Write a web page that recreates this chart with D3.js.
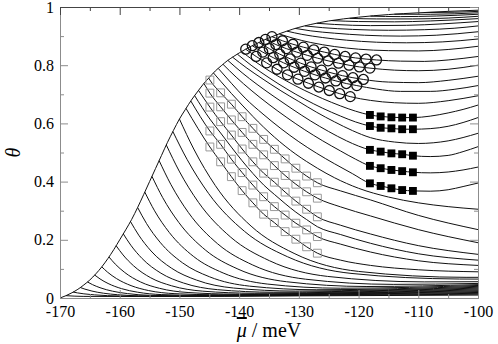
<!DOCTYPE html>
<html>
<head>
<meta charset="utf-8">
<script src="https://cdn.jsdelivr.net/npm/d3@7"></script>
<style>
body { margin: 0; background: #fff; }
svg { display: block; }
</style>
</head>
<body>
<div id="chart"></div>
<script>
// rising edge shared by every curve, [mu, theta]
var envelope = [[-170,0],[-169,0.008],[-168,0.018],[-167,0.03],[-166,0.045],[-165,0.062],[-164,0.083],
  [-163,0.107],[-162,0.135],[-161,0.166],[-160,0.2],[-159,0.234],[-158,0.27],[-157,0.311],[-156,0.355],
  [-155,0.4],[-154,0.445],[-153,0.49],[-152,0.535],[-151,0.576],[-150,0.615],[-149,0.648],[-148,0.68],
  [-147,0.708],[-146,0.735],[-145,0.758],[-144,0.78],[-143,0.798],[-142,0.815],[-141,0.829],[-140,0.842],
  [-139,0.854],[-138,0.865],[-137,0.875],[-136,0.885],[-135,0.894],[-134,0.902],[-133,0.91],[-132,0.917],
  [-131,0.924],[-130,0.93],[-128,0.94],[-125,0.952],[-120,0.965],[-115,0.974],[-110,0.98],[-105,0.985],[-100,0.989]];

// curves that leave the edge early and fall to the floor
var lowerCurves = [
  [[-169,0.008],[-166,0.0055],[-155,0.005],[-130,0.0073],[-100,0.01]],
  [[-167.8,0.0204],[-167.08,0.0176],[-166,0.0143],[-164.2,0.0107],[-162.04,0.0081],[-158.8,0.0063],[-153.4,0.0055],[-130,0.0086],[-100,0.013]],
  [[-166.6,0.036],[-165.82,0.0304],[-164.65,0.0238],[-162.7,0.0164],[-160.36,0.0113],[-156.85,0.0075],[-151,0.0064],[-130,0.01],[-100,0.016]],
  [[-165.4,0.055],[-164.56,0.046],[-163.3,0.0354],[-161.2,0.0234],[-158.68,0.0151],[-154.9,0.0091],[-148.6,0.0075],[-130,0.0114],[-100,0.019]],
  [[-164.2,0.079],[-163.3,0.0656],[-161.95,0.0499],[-159.7,0.0322],[-157,0.0199],[-152.95,0.0117],[-146.2,0.009],[-130,0.0127],[-100,0.022]],
  [[-163,0.107],[-162.02,0.0885],[-160.55,0.0669],[-158.1,0.0425],[-155.16,0.0256],[-150.75,0.0149],[-143.4,0.011],[-130,0.0141],[-100,0.025]],
  [[-161.8,0.141],[-160.74,0.1164],[-159.15,0.0876],[-156.5,0.055],[-153.32,0.0332],[-148.55,0.0189],[-140.6,0.0134],[-130,0.0155],[-100,0.028]],
  [[-160.6,0.1796],[-159.44,0.148],[-157.7,0.111],[-154.8,0.0694],[-151.32,0.042],[-146.1,0.0235],[-137.4,0.0164],[-120,0.0214],[-100,0.031]],
  [[-159.4,0.2204],[-158.14,0.1814],[-156.25,0.1357],[-153.1,0.0853],[-149.32,0.0515],[-143.65,0.0287],[-134.2,0.0199],[-115,0.0261],[-100,0.034]],
  [[-158.2,0.2628],[-156.82,0.2161],[-154.75,0.1615],[-151.3,0.1021],[-147.16,0.0617],[-140.95,0.0343],[-130.6,0.0238],[-115,0.0283],[-100,0.037]],
  [[-157,0.311],[-155.5,0.2556],[-153.25,0.1918],[-149.5,0.1211],[-145,0.0732],[-138.25,0.0408],[-127,0.0283],[-100,0.04]],
  [[-155.8,0.364],[-154.16,0.2996],[-151.7,0.2252],[-147.6,0.1422],[-142.68,0.086],[-135.3,0.048],[-123,0.0336],[-100,0.043]],
  [[-154.6,0.418],[-152.8,0.3448],[-150.1,0.2594],[-145.6,0.164],[-140.2,0.0994],[-132.1,0.056],[-118.6,0.0395],[-100,0.046]],
  [[-153.4,0.472],[-151.44,0.3904],[-148.5,0.2938],[-143.6,0.1862],[-137.72,0.1134],[-128.9,0.0647],[-114.2,0.0468],[-100,0.05]],
  [[-152.2,0.526],[-150.04,0.4361],[-146.8,0.3285],[-141.4,0.2088],[-134.92,0.1281],[-125.2,0.0742],[-109,0.0554],[-100,0.056]],
  [[-151.1,0.572],[-148.7,0.4755],[-145.1,0.3587],[-139.1,0.229],[-131.9,0.1418],[-121.1,0.0842],[-103.1,0.0652],[-100,0.065]],
  [[-150,0.615],[-147.6,0.512],[-144,0.3867],[-138,0.2471],[-130.8,0.1533],[-120,0.0913],[-102,0.071],[-100,0.071]]
];

// open squares band: columns and theta on five curves (top to bottom)
var sqCols = [-144.9,-143.1,-141.3,-139.5,-137.7,-135.9,-134.1,-132.3,-130.5,-128.7,-126.9];
var sqRows = [
  [0.749,0.705,0.666,0.623,0.583,0.545,0.511,0.478,0.446,0.419,0.396],
  [0.704,0.657,0.612,0.569,0.528,0.492,0.455,0.421,0.391,0.365,0.343],
  [0.656,0.606,0.560,0.512,0.468,0.429,0.398,0.364,0.333,0.305,0.279],
  [0.574,0.528,0.477,0.431,0.388,0.348,0.314,0.285,0.257,0.234,0.211],
  [0.519,0.468,0.417,0.369,0.327,0.288,0.259,0.228,0.202,0.176,0.154]
];
var sqStart = [[-145.1,0.7558],[-145.9,0.7373],[-146.8,0.7134],[-148.1,0.6772],[-148.9,0.6516]];
var sqTail = [
  [[-123,0.368],[-118,0.337],[-110,0.284],[-100,0.235]],
  [[-123,0.313],[-118,0.282],[-110,0.235],[-100,0.19]],
  [[-123,0.25],[-118,0.22],[-110,0.18],[-100,0.15]],
  [[-123,0.185],[-118,0.158],[-110,0.128],[-100,0.112]],
  [[-123,0.13],[-118,0.112],[-110,0.097],[-100,0.09]]
];
// curve between the 3rd and 4th square rows, no markers
var midCurve = [[-147.45,0.6954],[-144.9,0.615],[-143.1,0.567],[-141.3,0.5185],[-139.5,0.4715],[-137.7,0.428],
  [-135.9,0.3885],[-134.1,0.356],[-132.3,0.3245],[-130.5,0.295],[-128.7,0.2695],[-126.9,0.245],
  [-123,0.218],[-118,0.188],[-110,0.152],[-100,0.13]];

// filled squares
var fillCols = [-118.1,-116.3,-114.5,-112.7,-110.9];
var fillRows = [
  [0.629,0.624,0.621,0.62,0.62],
  [0.591,0.585,0.583,0.58,0.58],
  [0.509,0.503,0.497,0.494,0.489],
  [0.454,0.446,0.44,0.436,0.432],
  [0.394,0.385,0.377,0.371,0.368]
];
var fillHead = [
  [[-139.6,0.847],[-137.5,0.815],[-135,0.781],[-132,0.745],[-129,0.713],[-126,0.685],[-123,0.66],[-120.5,0.642]],
  [[-140.3,0.838],[-138,0.8],[-135,0.757],[-132,0.718],[-129,0.683],[-126,0.652],[-123,0.625],[-120.5,0.605]],
  [[-141.9,0.8166],[-139.5,0.774],[-137,0.734],[-134,0.69],[-131,0.648],[-128,0.608],[-125,0.572],[-122,0.54],[-120,0.522]],
  [[-142.7,0.803],[-140.5,0.759],[-138,0.714],[-135,0.665],[-132,0.62],[-129,0.578],[-126,0.54],[-123,0.505],[-120.5,0.477]],
  [[-143.5,0.789],[-141.3,0.738],[-139,0.687],[-136,0.632],[-133,0.582],[-130,0.537],[-127,0.497],[-124,0.461],[-121,0.427]]
];
var fillTail = [
  [[-108,0.625],[-105,0.636],[-102.5,0.648],[-100,0.663]],
  [[-108,0.582],[-105,0.59],[-102.5,0.603],[-100,0.62]],
  [[-108,0.486],[-105,0.49],[-102.5,0.503],[-100,0.52]],
  [[-108,0.43],[-105,0.433],[-102.5,0.44],[-100,0.45]],
  [[-108,0.367],[-105,0.372],[-102.5,0.383],[-100,0.395]]
];

// open circles, bottom row first
var circCols = [
  [-138.9,-137.15,-135.4,-133.65,-131.9,-130.15,-128.4,-126.65,-124.9,-123.15,-121.4],
  [-137.8,-136.05,-134.3,-132.55,-130.8,-129.05,-127.3,-125.55,-123.8,-122.05,-120.3],
  [-136.7,-134.95,-133.2,-131.45,-129.7,-127.95,-126.2,-124.45,-122.7,-120.95,-119.2],
  [-135.6,-133.85,-132.1,-130.35,-128.6,-126.85,-125.1,-123.35,-121.6,-119.85,-118.1],
  [-134.5,-132.75,-131,-129.25,-127.5,-125.75,-124,-122.25,-120.5,-118.75,-117]
];
var circRows = [
  [0.855,0.83,0.808,0.786,0.767,0.752,0.738,0.725,0.713,0.702,0.692],
  [0.867,0.845,0.826,0.808,0.793,0.779,0.767,0.756,0.746,0.737,0.73],
  [0.878,0.857,0.838,0.822,0.807,0.794,0.783,0.773,0.764,0.757,0.751],
  [0.8886,0.871,0.857,0.845,0.834,0.824,0.815,0.807,0.8,0.794,0.79],
  [0.898,0.884,0.872,0.862,0.853,0.845,0.837,0.83,0.825,0.821,0.818]
];
var circTail = [
  [[-118,0.679],[-114,0.671],[-110,0.669],[-105,0.678],[-100,0.695]],
  [[-117,0.718],[-113,0.71],[-108,0.71],[-104,0.717],[-100,0.73]],
  [[-115,0.742],[-110,0.74],[-105,0.748],[-100,0.762]],
  [[-114,0.783],[-110,0.781],[-105,0.786],[-100,0.8]],
  [[-113,0.814],[-109,0.813],[-105,0.818],[-100,0.83]]
];

// remaining upper curves without markers
var upperCurves = [
  [[-144.3,0.7734],[-143.1,0.745],[-141.3,0.703],[-139.5,0.663],[-137.7,0.624],[-135.9,0.587],[-134.1,0.553],[-132.3,0.522],[-130.5,0.494],[-128.7,0.469],[-126.9,0.446],[-124,0.413],[-120,0.377],[-115,0.347],[-110,0.327],[-105,0.314],[-100,0.305]],
  [[-141.1,0.8276],[-138.7,0.79],[-136,0.752],[-133,0.712],[-130,0.675],[-127,0.638],[-124,0.605],[-121,0.575],[-118,0.551],[-114,0.536],[-110,0.531],[-105,0.54],[-100,0.566]],
  [[-133.3,0.9076],[-131,0.893],[-128,0.878],[-124,0.864],[-120,0.855],[-115,0.85],[-110,0.849],[-105,0.854],[-100,0.865]],
  [[-132,0.917],[-129.5,0.906],[-126,0.895],[-122,0.886],[-117,0.879],[-112,0.877],[-106,0.88],[-100,0.89]],
  [[-130.6,0.9264],[-128,0.918],[-124,0.91],[-119,0.903],[-113,0.9],[-107,0.903],[-100,0.915]],
  [[-129,0.935],[-126,0.929],[-121,0.923],[-115,0.92],[-109,0.922],[-104,0.927],[-100,0.935]],
  [[-127,0.944],[-124,0.94],[-118,0.936],[-112,0.937],[-106,0.942],[-100,0.95]],
  [[-124.5,0.9533],[-120,0.95],[-114,0.949],[-108,0.952],[-100,0.96]],
  [[-121.5,0.961],[-117,0.959],[-111,0.959],[-105,0.962],[-100,0.968]],
  [[-118,0.9686],[-113,0.967],[-107,0.969],[-100,0.975]],
  [[-114,0.9752],[-108,0.975],[-100,0.98]],
  [[-109,0.981],[-104,0.982],[-100,0.985]]
];

var xMajor = [-170,-160,-150,-140,-130,-120,-110,-100];
var xMinor = [-165,-155,-145,-135,-125,-115,-105];
var yMajor = [0,0.2,0.4,0.6,0.8,1];
var yMinor = [0.1,0.3,0.5,0.7,0.9];

var svgWidth = 498;
var svgHeight = 344;
var margin = {top: 7, right: 20, bottom: 46, left: 60};
var width = svgWidth - margin.left - margin.right;
var height = svgHeight - margin.top - margin.bottom;
var serif = "'Liberation Serif', 'DejaVu Serif', 'Times New Roman', serif";

var svg = d3.select("#chart").append("svg")
  .attr("width", svgWidth)
  .attr("height", svgHeight);
svg.append("rect").attr("width", svgWidth).attr("height", svgHeight).attr("fill", "#fff");

var chart = svg.append("g").attr("transform", `translate(${margin.left},${margin.top})`);

var xScale = d3.scaleLinear().domain([-170, -100]).range([0, width]);
var yScale = d3.scaleLinear().domain([0, 1]).range([height, 0]);

chart.append("clipPath").attr("id", "plotClip")
  .append("rect").attr("width", width).attr("height", height);

// assemble curves
var sqCurves = sqRows.map((row, i) => [sqStart[i]].concat(sqCols.map((x, j) => [x, row[j]]), sqTail[i]));
var fillCurves = fillRows.map((row, i) => fillHead[i].concat(fillCols.map((x, j) => [x, row[j]]), fillTail[i]));
var circCurves = circRows.map((row, i) => circCols[i].map((x, j) => [x, row[j]]).concat(circTail[i]));
var allCurves = [envelope].concat(lowerCurves, sqCurves, [midCurve], fillCurves, circCurves, upperCurves);

var line = d3.line()
  .x(d => xScale(d[0]))
  .y(d => yScale(d[1]))
  .curve(d3.curveMonotoneX);

chart.append("g").attr("clip-path", "url(#plotClip)")
  .selectAll("path")
  .data(allCurves)
  .enter()
  .append("path")
  .attr("d", line)
  .attr("fill", "none")
  .attr("stroke", "#111")
  .attr("stroke-width", 1);

// axes, ticks pointing inward
function styleAxis(g, color) {
  g.select(".domain").attr("stroke", color);
  g.selectAll(".tick line").attr("stroke", color);
  g.selectAll(".tick text").attr("fill", "#000").attr("font-family", serif).attr("font-size", 16);
}
var axisColor = "#8c8c8c";

var xFmt = d => d3.format("d")(d).replace("\u2212", "-");
var yFmt = d => (d === 0 || d === 1) ? String(d) : d.toFixed(1);

chart.append("g").attr("transform", `translate(0,${height})`)
  .call(d3.axisBottom(xScale).tickValues(xMinor).tickSize(-4).tickSizeOuter(0).tickFormat(""))
  .call(g => styleAxis(g, axisColor));
chart.append("g").attr("transform", `translate(0,${height})`)
  .call(d3.axisBottom(xScale).tickValues(xMajor).tickSize(-8).tickSizeOuter(0).tickPadding(8).tickFormat(xFmt))
  .call(g => styleAxis(g, axisColor));

chart.append("g")
  .call(d3.axisLeft(yScale).tickValues(yMinor).tickSize(-4).tickSizeOuter(0).tickFormat(""))
  .call(g => styleAxis(g, axisColor));
chart.append("g")
  .call(d3.axisLeft(yScale).tickValues(yMajor).tickSize(-8).tickSizeOuter(0).tickPadding(6).tickFormat(yFmt))
  .call(g => styleAxis(g, axisColor));

chart.append("g")
  .call(d3.axisTop(xScale).tickValues(xMinor).tickSize(-4).tickSizeOuter(0).tickFormat(""))
  .call(g => styleAxis(g, "#444"));
chart.append("g")
  .call(d3.axisTop(xScale).tickValues(xMajor).tickSize(-8).tickSizeOuter(0).tickFormat(""))
  .call(g => styleAxis(g, "#444"));

chart.append("g").attr("transform", `translate(${width},0)`)
  .call(d3.axisRight(yScale).tickValues(yMinor).tickSize(-4).tickSizeOuter(0).tickFormat(""))
  .call(g => styleAxis(g, axisColor));
chart.append("g").attr("transform", `translate(${width},0)`)
  .call(d3.axisRight(yScale).tickValues(yMajor).tickSize(-8).tickSizeOuter(0).tickFormat(""))
  .call(g => styleAxis(g, axisColor));

// markers
var openSquares = [];
sqRows.forEach((row, i) => row.forEach((t, j) => openSquares.push([sqCols[j], t])));
var filledSquares = [];
fillRows.forEach((row, i) => row.forEach((t, j) => filledSquares.push([fillCols[j], t])));
var circles = [];
circRows.forEach((row, i) => row.forEach((t, j) => circles.push([circCols[i][j], t])));

var square = d3.symbol().type(d3.symbolSquare).size(62);

chart.append("g").selectAll("path")
  .data(openSquares)
  .enter()
  .append("path")
  .attr("d", square)
  .attr("transform", d => `translate(${xScale(d[0])},${yScale(d[1])})`)
  .attr("fill", "none")
  .attr("stroke", "#999")
  .attr("stroke-width", 1);

chart.append("g").selectAll("path")
  .data(filledSquares)
  .enter()
  .append("path")
  .attr("d", square)
  .attr("transform", d => `translate(${xScale(d[0])},${yScale(d[1])})`)
  .attr("fill", "#000");

chart.append("g").selectAll("circle")
  .data(circles)
  .enter()
  .append("circle")
  .attr("cx", d => xScale(d[0]))
  .attr("cy", d => yScale(d[1]))
  .attr("r", 5)
  .attr("fill", "none")
  .attr("stroke", "#111")
  .attr("stroke-width", 1.3);

// axis titles
var xTitle = svg.append("text")
  .attr("x", margin.left + width / 2)
  .attr("y", 337)
  .attr("text-anchor", "middle")
  .attr("font-family", serif)
  .attr("font-size", 20)
  .attr("fill", "#000");
xTitle.append("tspan")
  .attr("font-style", "italic")
  .attr("text-decoration", "overline")
  .style("text-decoration", "overline")
  .text("\u03bc");
xTitle.append("tspan").text(" / meV");

svg.append("text")
  .attr("transform", `translate(20,${margin.top + height / 2}) rotate(-90)`)
  .attr("text-anchor", "middle")
  .attr("font-family", serif)
  .attr("font-style", "italic")
  .attr("font-size", 20)
  .attr("fill", "#000")
  .text("\u03b8");
</script>
</body>
</html>
